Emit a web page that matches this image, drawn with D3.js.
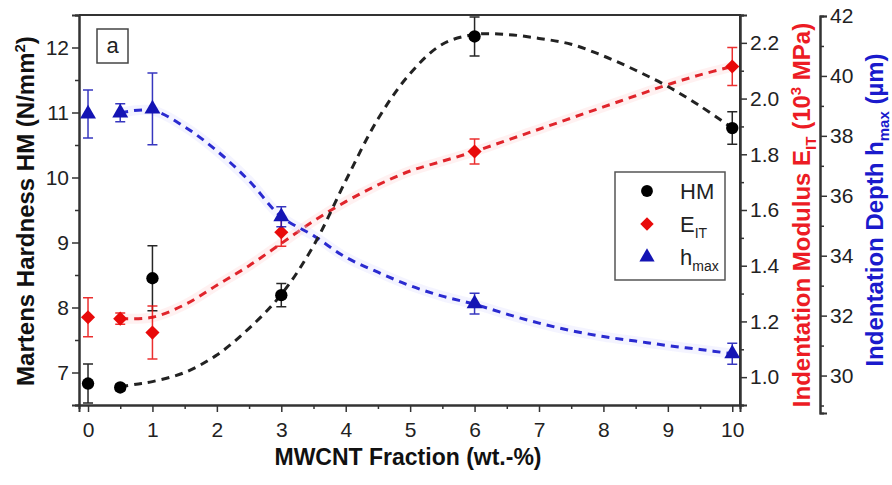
<!DOCTYPE html>
<html>
<head>
<meta charset="utf-8">
<script src="https://cdn.jsdelivr.net/npm/d3@7"></script>
<style>
  body { margin: 0; background: #fff; }
  text { font-family: "Liberation Sans", Arial, sans-serif; }
</style>
</head>
<body>
<div id="graphic"></div>
<script>
// measured points
const fractions = [0, 0.5, 1, 3, 6, 10]
const hmValues = [6.83, 6.77, 8.45, 8.19, 12.17, 10.76]
const hmErrors = [0.3, 0.05, 0.5, 0.18, 0.3, 0.25]
const eitValues = [1.215, 1.21, 1.16, 1.52, 1.81, 2.115]
const eitErrors = [0.07, 0.02, 0.095, 0.05, 0.045, 0.068]
const hmaxValues = [38.73, 38.77, 38.9, 35.3, 32.4, 30.73]
const hmaxErrors = [0.8, 0.3, 1.2, 0.33, 0.35, 0.35]

// dashed fit curves
const hmFitX = [0.5, 0.75, 1, 1.5, 2, 2.5, 3, 3.5, 4, 4.5, 5, 5.5, 6, 6.5, 7, 7.5, 8, 8.5, 9, 9.5, 10]
const hmFitY = [6.78, 6.82, 6.86, 7.0, 7.27, 7.68, 8.2, 8.95, 9.95, 10.9, 11.6, 12.05, 12.2, 12.2, 12.14, 12.05, 11.87, 11.65, 11.4, 11.1, 10.76]
const eitFitX = [0.5, 1, 1.5, 2, 2.5, 3, 3.5, 4, 4.5, 5, 5.5, 6, 6.5, 7, 7.5, 8, 8.5, 9, 9.5, 10]
const eitFitY = [1.21, 1.215, 1.26, 1.33, 1.40, 1.48, 1.56, 1.63, 1.69, 1.74, 1.775, 1.81, 1.85, 1.89, 1.93, 1.97, 2.01, 2.05, 2.085, 2.115]
const hmaxFitX = [0.5, 1, 1.5, 2, 2.5, 3, 3.5, 4, 4.5, 5, 5.5, 6, 6.5, 7, 7.5, 8, 8.5, 9, 9.5, 10]
const hmaxFitY = [38.77, 38.85, 38.3, 37.5, 36.5, 35.3, 34.67, 33.95, 33.45, 33.0, 32.65, 32.38, 32.05, 31.75, 31.5, 31.3, 31.15, 31.0, 30.87, 30.73]

// tick labels
const xTicks = [0, 1, 2, 3, 4, 5, 6, 7, 8, 9, 10]
const hmTicks = [7, 8, 9, 10, 11, 12]
const eitTicks = [1.0, 1.2, 1.4, 1.6, 1.8, 2.0, 2.2]
const hmaxTicks = [30, 32, 34, 36, 38, 40, 42]

const W = 892, H = 485
const plotLeft = 79, plotRight = 740, plotTop = 15, plotBottom = 405

let svg = d3.select("#graphic").append("svg")
    .attr("width", W)
    .attr("height", H)

let x = d3.scaleLinear().domain([-0.14, 10.12]).range([plotLeft, plotRight])
let yHM = d3.scaleLinear().domain([6.5, 12.5]).range([plotBottom, plotTop])
let yE = d3.scaleLinear().domain([0.9, 2.3]).range([plotBottom, plotTop])
let yH = d3.scaleLinear().domain([28.75, 42]).range([413, 16])

const axisColor = "#333"
const tickFont = "21px"

function styleAxis(g) {
    g.selectAll("path").attr("stroke", axisColor).attr("stroke-width", 2)
    g.selectAll("line").attr("stroke", axisColor).attr("stroke-width", 1.5)
    g.selectAll("text").attr("fill", "#222").style("font-size", tickFont)
}

// frame top + right
svg.append("path")
    .attr("d", `M${plotLeft},${plotTop}H${plotRight}V${plotBottom}`)
    .attr("fill", "none")
    .attr("stroke", axisColor)
    .attr("stroke-width", 2)

// minor ticks
svg.append("g").attr("transform", `translate(0,${plotBottom})`)
    .call(d3.axisBottom(x).tickValues(d3.range(0.5, 10, 1)).tickSize(4).tickFormat(""))
    .call(styleAxis)
svg.append("g").attr("transform", `translate(${plotLeft},0)`)
    .call(d3.axisLeft(yHM).tickValues(d3.range(6.5, 12.6, 1)).tickSize(4).tickFormat(""))
    .call(styleAxis)
svg.append("g").attr("transform", `translate(${plotRight},0)`)
    .call(d3.axisRight(yE).tickValues(d3.range(0.9, 2.31, 0.2)).tickSize(4).tickFormat(""))
    .call(styleAxis)
svg.append("g").attr("transform", `translate(820,0)`)
    .call(d3.axisRight(yH).tickValues(d3.range(29, 42, 2)).tickSize(4).tickFormat(""))
    .call(styleAxis)

// major axes
svg.append("g").attr("transform", `translate(0,${plotBottom})`)
    .call(d3.axisBottom(x).tickValues(xTicks).tickSize(7).tickPadding(10).tickFormat(d3.format("d")))
    .call(styleAxis)
svg.append("g").attr("transform", `translate(${plotLeft},0)`)
    .call(d3.axisLeft(yHM).tickValues(hmTicks).tickSize(7).tickPadding(3).tickFormat(d3.format("d")))
    .call(styleAxis)
svg.append("g").attr("transform", `translate(${plotRight},0)`)
    .call(d3.axisRight(yE).tickValues(eitTicks).tickSize(7).tickPadding(3).tickFormat(d3.format(".1f")))
    .call(styleAxis)
svg.append("g").attr("transform", `translate(820,0)`)
    .call(d3.axisRight(yH).tickValues(hmaxTicks).tickSize(7).tickPadding(3).tickFormat(d3.format("d")))
    .call(styleAxis)

// axis titles
svg.append("text")
    .attr("x", 408).attr("y", 465)
    .attr("text-anchor", "middle")
    .style("font-size", "23px").style("font-weight", "bold")
    .attr("fill", "#111")
    .text("MWCNT Fraction (wt.-%)")

let lTitle = svg.append("text")
    .attr("transform", "translate(34,211) rotate(-90)")
    .attr("text-anchor", "middle")
    .style("font-size", "24px").style("font-weight", "bold")
    .attr("fill", "#111")
lTitle.append("tspan").text("Martens Hardness HM (N/mm")
lTitle.append("tspan").attr("dy", -9).style("font-size", "15px").text("2")
lTitle.append("tspan").attr("dy", 9).text(")")

let eTitle = svg.append("text")
    .attr("transform", "translate(810,215) rotate(-90)")
    .attr("text-anchor", "middle")
    .style("font-size", "24px").style("font-weight", "bold")
    .attr("fill", "#ec1c24")
eTitle.append("tspan").text("Indentation Modulus E")
eTitle.append("tspan").attr("dy", 6).style("font-size", "15px").text("IT")
eTitle.append("tspan").attr("dy", -6).text(" (10")
eTitle.append("tspan").attr("dy", -9).style("font-size", "15px").text("3")
eTitle.append("tspan").attr("dy", 9).text(" MPa)")

let hTitle = svg.append("text")
    .attr("transform", "translate(883,210) rotate(-90)")
    .attr("text-anchor", "middle")
    .style("font-size", "24px").style("font-weight", "bold")
    .attr("fill", "#1a1acc")
hTitle.append("tspan").text("Indentation Depth h")
hTitle.append("tspan").attr("dy", 6).style("font-size", "15px").text("max")
hTitle.append("tspan").attr("dy", -6).text(" (µm)")

// panel label
svg.append("rect")
    .attr("x", 97).attr("y", 29).attr("width", 31).attr("height", 34)
    .attr("fill", "none").attr("stroke", "#444").attr("stroke-width", 1.5)
svg.append("text")
    .attr("x", 112.5).attr("y", 53)
    .attr("text-anchor", "middle")
    .style("font-size", "22px")
    .attr("fill", "#222")
    .text("a")

// fit curves
let plot = svg.append("g")

function drawFit(xs, ys, yScale, color, halo) {
    let pts = xs.map((d, i) => [d, ys[i]])
    let line = d3.line()
        .x(d => x(d[0]))
        .y(d => yScale(d[1]))
        .curve(d3.curveCatmullRom)
    if (halo) {
        plot.append("path")
            .attr("d", line(pts))
            .attr("fill", "none")
            .attr("stroke", halo)
            .attr("stroke-width", 10)
            .attr("opacity", 0.3)
    }
    plot.append("path")
        .attr("d", line(pts))
        .attr("fill", "none")
        .attr("stroke", color)
        .attr("stroke-width", 3)
        .attr("stroke-dasharray", "8,6")
}

drawFit(eitFitX, eitFitY, yE, "#e0242b", "#ffd0d0")
drawFit(hmaxFitX, hmaxFitY, yH, "#2a2ad0", "#dcdcff")
drawFit(hmFitX, hmFitY, yHM, "#222", null)

// marker shapes; the diamond is a square turned by 45 degrees
const markers = {
    circle: { type: d3.symbolCircle, size: 120, rot: 0 },
    diamond: { type: d3.symbolSquare, size: 100, rot: 45 },
    triangle: { type: d3.symbolTriangle, size: 110, rot: 0 }
}

// error bars + markers
function drawSeries(values, errors, yScale, color, shape) {
    let g = plot.append("g")
    let m = markers[shape]
    let data = fractions.map((f, i) => ({ x: f, y: values[i], e: errors[i] }))
    g.selectAll(null).data(data).enter().append("path")
        .attr("d", d => {
            let cx = x(d.x), y1 = yScale(d.y - d.e), y2 = yScale(d.y + d.e)
            return `M${cx},${y1}V${y2}M${cx - 5},${y1}H${cx + 5}M${cx - 5},${y2}H${cx + 5}`
        })
        .attr("stroke", color)
        .attr("stroke-width", 1.5)
        .attr("fill", "none")
        .attr("opacity", 0.85)
    g.selectAll(null).data(data).enter().append("path")
        .attr("transform", d => `translate(${x(d.x)},${yScale(d.y)}) rotate(${m.rot})`)
        .attr("d", d3.symbol().type(m.type).size(m.size))
        .attr("fill", color)
}

drawSeries(hmValues, hmErrors, yHM, "#000", "circle")
drawSeries(eitValues, eitErrors, yE, "#e80a0a", "diamond")
drawSeries(hmaxValues, hmaxErrors, yH, "#1414b4", "triangle")

// legend
let legend = svg.append("g")
legend.append("rect")
    .attr("x", 615).attr("y", 172).attr("width", 110).attr("height", 108)
    .attr("fill", "#fff").attr("stroke", "#555").attr("stroke-width", 1.5)

const legendItems = [
    { label: "HM", sub: "", color: "#000", shape: "circle" },
    { label: "E", sub: "IT", color: "#e80a0a", shape: "diamond" },
    { label: "h", sub: "max", color: "#1414b4", shape: "triangle" }
]
legendItems.forEach((d, i) => {
    let cy = 191 + i * 33
    let m = markers[d.shape]
    legend.append("path")
        .attr("transform", `translate(647,${cy}) rotate(${m.rot})`)
        .attr("d", d3.symbol().type(m.type).size(m.size - 10))
        .attr("fill", d.color)
    let t = legend.append("text")
        .attr("x", 680).attr("y", cy + 8)
        .style("font-size", "22px")
        .attr("fill", "#222")
    t.append("tspan").text(d.label)
    if (d.sub) t.append("tspan").attr("dy", 6).style("font-size", "14px").text(d.sub)
})
</script>
</body>
</html>
